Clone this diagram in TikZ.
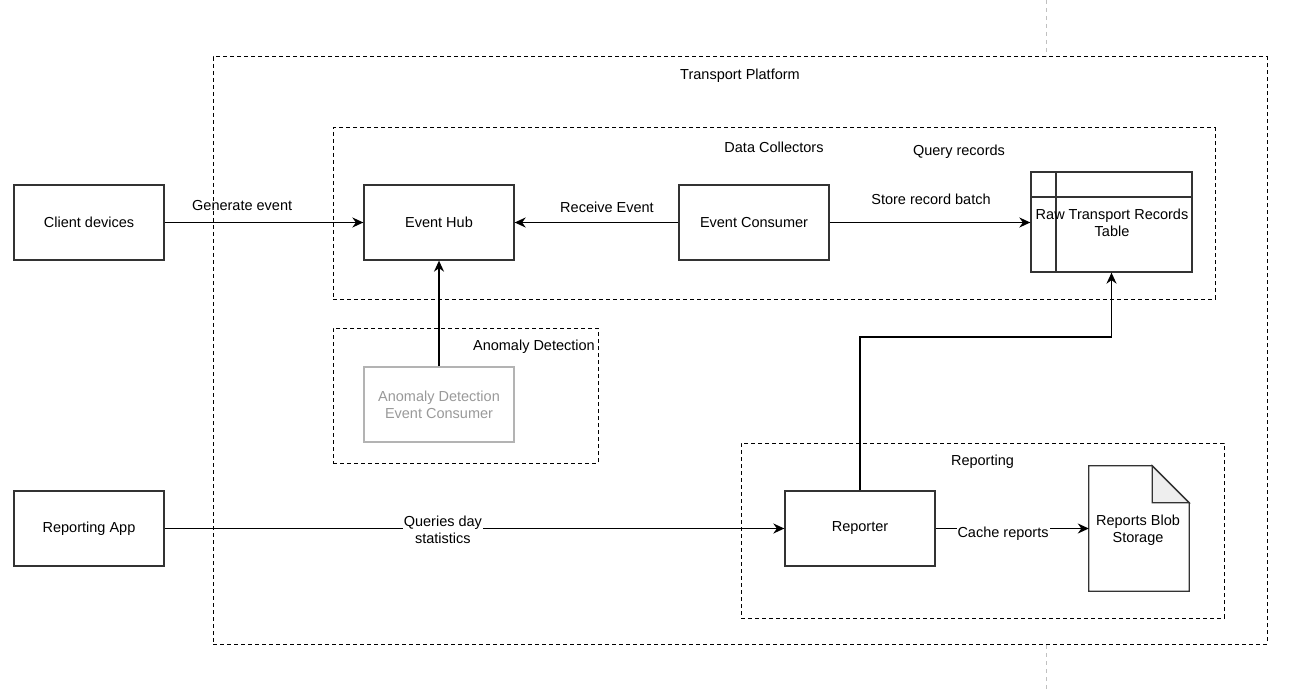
\documentclass[tikz,border=0pt]{standalone}
\usepackage{fontspec}
\setmainfont{Liberation Sans}
\usetikzlibrary{arrows.meta}
\definecolor{boxline}{HTML}{333333}
\definecolor{pageline}{HTML}{C0C0C0}
\definecolor{ghost}{HTML}{B3B3B3}
\definecolor{ghosttext}{HTML}{999999}
\definecolor{foldfill}{HTML}{EEEEEE}
\begin{document}
\begin{tikzpicture}[x=1pt,y=-1pt,
  font=\fontsize{14.5}{17}\selectfont,
  box/.style={draw=boxline,line width=1.3pt,minimum width=150pt,minimum height=75pt,inner sep=0pt,align=center},
  group/.style={draw=black,line width=1pt,dash pattern=on 4pt off 3pt,inner sep=0pt},
  conn/.style={line width=1.5pt,-{Stealth[length=11pt,width=10pt,inset=3.5pt]}},
  lbl/.style={inner sep=1pt,align=center},
  lblbg/.style={fill=white,inner sep=1pt,align=center}]
\useasboundingbox (0,0) rectangle (1292,690);
% page break guide
\draw[pageline,line width=1pt,dash pattern=on 4pt off 4pt] (1046,0) -- (1046,57);
\draw[pageline,line width=1pt,dash pattern=on 4pt off 4pt] (1046,645) -- (1046,690);
% containers
\node[group,minimum width=1054pt,minimum height=587pt] (tp) at (740,350.5) {};
\node[lbl] (tplbl) at (740,76) {Transport Platform};
\node[group,minimum width=882pt,minimum height=171pt] (dc) at (774,213.5) {};
\node[lbl] (dclbl) at (774,147) {Data Collectors};
\node[group,minimum width=265pt,minimum height=135pt] (ad) at (465.5,395.5) {};
\node[lbl,anchor=east] (adlbl) at (596,347) {Anomaly Detection};
\node[group,minimum width=483pt,minimum height=175pt] (rg) at (982.5,530.5) {};
\node[lbl] (rglbl) at (982.5,462) {Reporting};
\node[lbl] (qr) at (959,152) {Query records};
% boxes
\node[box] (client) at (89,222.5) {Client devices};
\node[box] (hub) at (439,222.5) {Event Hub};
\node[box] (cons) at (754,222.5) {Event Consumer};
\node[box,draw=ghost,text=ghosttext] (adc) at (439,404.5) {Anomaly Detection\\Event Consumer};
\node[box] (app) at (89,528.5) {Reporting App};
\node[box] (rep) at (860,528.5) {Reporter};
% table
\node[box,minimum width=161pt,minimum height=100pt] (tbl) at (1111.5,222) {};
\draw[boxline,line width=1.3pt] (1031,197) -- (1192,197);
\draw[boxline,line width=1.3pt] (1056,172) -- (1056,272);
\node[lbl] (tbltxt) at (1112,223) {Raw Transport Records\\Table};
% blob storage (document shape)
\node[minimum width=100pt,minimum height=125pt,inner sep=0pt] (blob) at (1139,528.5) {};
\draw[boxline,line width=1.3pt,fill=white] (blob.north west) -- ([xshift=-37pt]blob.north east) -- ([yshift=-37pt]blob.north east) -- (blob.south east) -- (blob.south west) -- cycle;
\draw[boxline,line width=1.3pt,fill=foldfill] ([xshift=-37pt]blob.north east) -- ([xshift=-37pt,yshift=-37pt]blob.north east) -- ([yshift=-37pt]blob.north east) -- cycle;
\node[lbl] (blobtxt) at (1138,530) {Reports Blob\\Storage};
% connectors
\draw[conn] (client) -- node[lbl,pos=0.39,yshift=17pt] {Generate event} (hub);
\draw[conn] (cons) -- node[lbl,pos=0.436,yshift=15pt] {Receive Event} (hub);
\draw[conn] (cons) -- node[lbl,pos=0.505,yshift=23pt] {Store record batch} (tbl.west |- cons.east);
\draw[conn] (adc) -- (hub);
\coordinate (bend) at (860,337);
\draw[conn] (rep.north) -- (bend) -| (tbl.south);
\draw[conn] (app) -- node[lblbg,pos=0.449,yshift=-1pt] {Queries day\\statistics} (rep);
\draw[conn] (rep.east) -- node[lblbg,pos=0.44,yshift=-5pt] {Cache reports} (blob.west |- rep.east);
\end{tikzpicture}
\end{document}
